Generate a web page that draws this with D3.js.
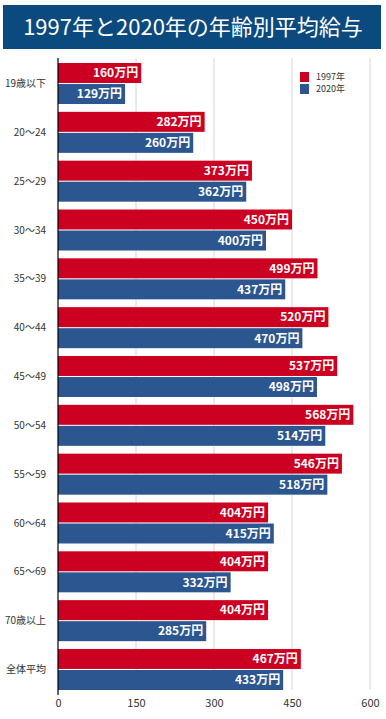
<!DOCTYPE html>
<html>
<head>
<meta charset="utf-8">
<script src="https://cdn.jsdelivr.net/npm/d3@7"></script>
<style>
  body { margin: 0; background: #fff; }
  text { font-family: "Noto Sans CJK JP", "Noto Sans", sans-serif; }
</style>
</head>
<body>
<div id="chart"></div>
<script>
// Data
const categories = ['19歳以下', '20〜24', '25〜29', '30〜34', '35〜39', '40〜44', '45〜49',
    '50〜54', '55〜59', '60〜64', '65〜69', '70歳以上', '全体平均'];
const series = ['1997年', '2020年'];
const values1997 = [160, 282, 373, 450, 499, 520, 537, 568, 546, 404, 404, 404, 467];
const values2020 = [129, 260, 362, 400, 437, 470, 498, 514, 518, 415, 332, 285, 433];
const xTicks = [0, 150, 300, 450, 600];

const colors = { '1997年': '#cc0020', '2020年': '#2b5690' };

const W = 386, H = 719;
const svg = d3.select('#chart').append('svg')
    .attr('width', W)
    .attr('height', H);

// Title banner
svg.append('rect')
    .attr('x', 3).attr('y', 5)
    .attr('width', 378).attr('height', 44)
    .attr('fill', '#0b4a7e');
svg.append('text')
    .attr('x', 193).attr('y', 35)
    .attr('text-anchor', 'middle')
    .attr('fill', '#fff')
    .style('font-size', '22px')
    .text('1997年と2020年の年齢別平均給与');

// Scales
const x = d3.scaleLinear().domain([0, 600]).range([58, 370]);
const y = d3.scaleBand()
    .domain(categories)
    .range([59.1, 693.9])
    .paddingInner(0.16)
    .paddingOuter(0.08);
const ySub = d3.scaleBand()
    .domain(series)
    .range([0, y.bandwidth()])
    .paddingInner(0.05);

const plotTop = 58, plotBottom = 690;

// Gridlines
svg.append('g')
    .selectAll('line')
    .data(xTicks.slice(1))
    .join('line')
    .attr('x1', d => x(d)).attr('x2', d => x(d))
    .attr('y1', plotTop).attr('y2', plotBottom)
    .attr('stroke', '#d4d4d4')
    .attr('stroke-width', 1);

// Bars
const rows = categories.map((c, i) => ({
    cat: c,
    items: [
        { s: '1997年', v: values1997[i] },
        { s: '2020年', v: values2020[i] }
    ]
}));

const groups = svg.append('g')
    .selectAll('g')
    .data(rows)
    .join('g')
    .attr('transform', d => `translate(0,${y(d.cat)})`);

groups.selectAll('rect')
    .data(d => d.items)
    .join('rect')
    .attr('x', x(0))
    .attr('y', d => ySub(d.s))
    .attr('width', d => x(d.v) - x(0))
    .attr('height', ySub.bandwidth())
    .attr('fill', d => colors[d.s]);

groups.selectAll('text.val')
    .data(d => d.items)
    .join('text')
    .attr('class', 'val')
    .attr('x', d => x(d.v) - 3)
    .attr('y', d => ySub(d.s) + ySub.bandwidth() / 2)
    .attr('dy', '0.36em')
    .attr('text-anchor', 'end')
    .attr('fill', '#fff')
    .style('font-size', '12px')
    .style('font-weight', 'bold')
    .text(d => d.v + '万円');

// Category labels
svg.append('g')
    .selectAll('text')
    .data(categories)
    .join('text')
    .attr('x', 46)
    .attr('y', d => y(d) + y.bandwidth() / 2)
    .attr('dy', '0.36em')
    .attr('text-anchor', 'end')
    .attr('fill', '#333')
    .style('font-size', '10px')
    .text(d => d);

// Axis line at zero
svg.append('line')
    .attr('x1', x(0)).attr('x2', x(0))
    .attr('y1', plotTop).attr('y2', 695)
    .attr('stroke', '#000')
    .attr('stroke-width', 1.2);

// X axis tick labels
const xAxis = svg.append('g')
    .attr('transform', `translate(0,${plotBottom})`)
    .call(d3.axisBottom(x).tickValues(xTicks).tickSize(0).tickPadding(9));
xAxis.select('.domain').remove();
xAxis.selectAll('text')
    .attr('fill', '#333')
    .style('font-size', '11px')
    .style('font-family', '"Noto Sans CJK JP", sans-serif');

// Legend
const legend = svg.append('g')
    .selectAll('g')
    .data(series)
    .join('g')
    .attr('transform', (d, i) => `translate(300,${72 + i * 12})`);
legend.append('rect')
    .attr('width', 9).attr('height', 10)
    .attr('fill', d => colors[d]);
legend.append('text')
    .attr('x', 16).attr('y', 5)
    .attr('dy', '0.36em')
    .attr('fill', '#333')
    .style('font-size', '9px')
    .text(d => d);
</script>
</body>
</html>
